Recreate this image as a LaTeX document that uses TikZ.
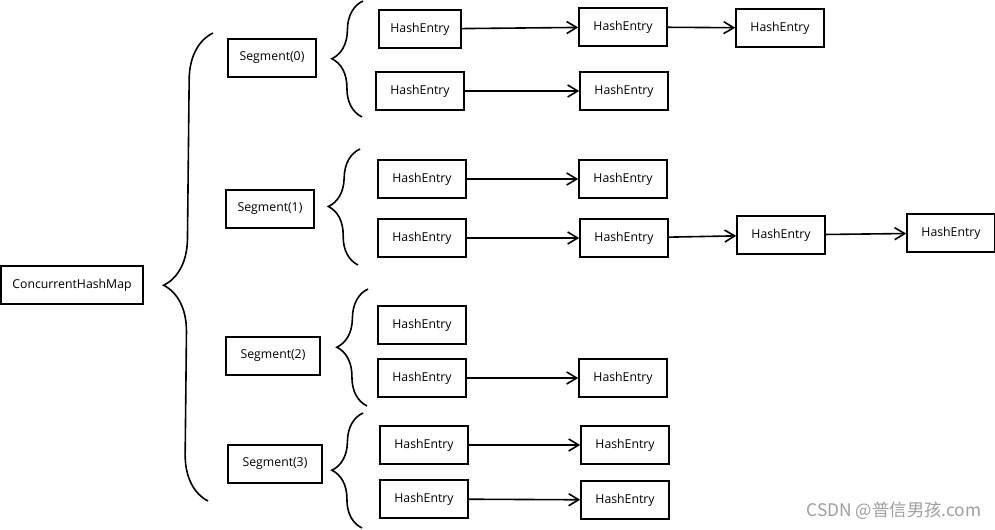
\documentclass[tikz,border=0pt]{standalone}
\usepackage{fontspec}
\setmainfont{Open Sans}
\newfontfamily\cjk{Noto Sans CJK SC}
\usetikzlibrary{arrows.meta,decorations.pathreplacing}
\tikzset{
	entry/.style={draw, line width=1.2pt, minimum width=66pt, minimum height=28.5pt,
		inner sep=0pt, font=\fontsize{9.2}{11}\selectfont},
	link/.style={line width=1.2pt,
		-{Straight Barb[length=7.5pt,width=9pt,line width=1.2pt]}},
	curly/.style={line width=1.2pt, decorate,
		decoration={brace, amplitude=#1, aspect=0.5}},
}

\begin{document}
\begin{tikzpicture}[x=0.75pt,y=0.75pt,yscale=-1,xscale=1]
\useasboundingbox (0,0) rectangle (995,530);

% map and segments
\node[entry, minimum width=106.5pt] (chm) at (72,285) {ConcurrentHashMap};
\node[entry] (seg0) at (272,58) {Segment(0)};
\node[entry] (seg1) at (270,209) {Segment(1)};
\node[entry, minimum width=70.5pt] (seg2) at (273,356) {Segment(2)};
\node[entry, minimum width=70.5pt] (seg3) at (275,464) {Segment(3)};

% braces
\draw[curly=35pt, decoration={aspect=0.46}] (208,501) -- (213,33);
\draw[curly=23pt] (362,117) -- (363,1);
\draw[curly=23pt] (358,265) -- (360,149);
\draw[curly=23pt] (367,406) -- (368,289);
\draw[curly=23pt] (362,528) -- (363,413);

% first column
\node[entry, minimum width=61.5pt] (e00) at (420,29) {HashEntry};
\node[entry] (e10) at (420,91) {HashEntry};
\node[entry] (e20) at (422,179) {HashEntry};
\node[entry] (e30) at (422,238) {HashEntry};
\node[entry] (e40) at (422,325) {HashEntry};
\node[entry] (e50) at (422,378) {HashEntry};
\node[entry] (e60) at (424,445) {HashEntry};
\node[entry] (e70) at (424,499) {HashEntry};

% second column
\node[entry] (e01) at (623,27) {HashEntry};
\node[entry] (e11) at (624,91) {HashEntry};
\node[entry] (e21) at (623,179) {HashEntry};
\node[entry] (e31) at (624,238) {HashEntry};
\node[entry] (e51) at (623,378) {HashEntry};
\node[entry] (e61) at (625,445) {HashEntry};
\node[entry] (e71) at (625,500) {HashEntry};

% further entries
\node[entry] (e02) at (780,28) {HashEntry};
\node[entry] (e32) at (781,235) {HashEntry};
\node[entry] (e33) at (951,233) {HashEntry};

% chains
\draw[link] (e00) -- (e01);
\draw[link] (e01) -- (e02);
\draw[link] (e10) -- (e11);
\draw[link] (e20) -- (e21);
\draw[link] (e30) -- (e31);
\draw[link] (e31) -- (e32);
\draw[link] (e32) -- (e33);
\draw[link] (e50) -- (e51);
\draw[link] (e60) -- (e61);
\draw[link] (e70) -- (e71);

\node[anchor=east, text=black!38, font=\cjk\fontsize{13}{15}\selectfont] (mark) at (986,511) {CSDN @普信男孩.com};

\end{tikzpicture}
\end{document}
